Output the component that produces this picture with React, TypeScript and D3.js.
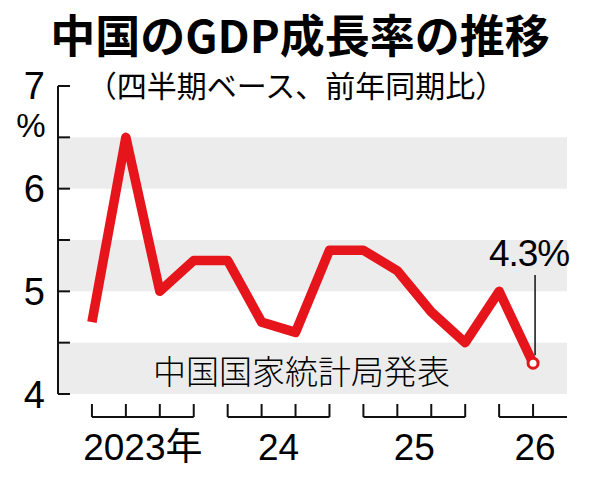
import React from 'react';
import * as d3 from 'd3';

// quarterly growth, 2023 Q1 .. 2026 Q2 (%)
const values = [4.7, 6.5, 5.0, 5.3, 5.3, 4.7, 4.6, 5.4, 5.4, 5.2, 4.8, 4.5, 5.0, 4.3];
const yearLabels = ['2023年', '24', '25', '26'];
const yearStarts = [0, 4, 8, 12];
const yearEnds = [3, 7, 11, 14];
const yTicks = [4, 5, 6, 7];
const bands = [[4, 4.5], [5, 5.5], [6, 6.5]];

const RED = '#e6141b';
const SANS = '"Liberation Sans", Arial, "Noto Sans CJK JP", sans-serif';
const JP = '"Noto Sans CJK JP", sans-serif';

const App = () => {
  const x = d3.scaleLinear().domain([-1, 14]).range([58, 567]);
  const y = d3.scaleLinear().domain([4, 7]).range([394, 86]);

  const line = d3.line<number>()
    .x((d, i) => x(i))
    .y(d => y(d));

  const last = values.length - 1;
  const minorTicks = d3.range(4, 7.01, 0.5);

  return (
    <svg width={600} height={477} style={{ position: 'absolute', left: 0, top: 0, background: '#fff' }}>
      <text x={300} y={53} textAnchor="middle" fontFamily={JP} fontWeight={700} fontSize={45}>
        中国のGDP成長率の推移
      </text>
      <text x={296} y={97} textAnchor="middle" fontFamily={JP} fontSize={30}>
        （四半期ベース、前年同期比）
      </text>

      {bands.map(([a, b]) => (
        <rect key={a} x={x(-1)} y={y(b)} width={x(14) - x(-1)} height={y(a) - y(b)} fill="#ececec" />
      ))}

      {/* y axis */}
      <line x1={x(-1)} x2={x(-1)} y1={y(7)} y2={y(4)} stroke="#111" strokeWidth={2} />
      {minorTicks.map(t => (
        <line key={t} x1={x(-1)} x2={x(-1) + 12} y1={y(t)} y2={y(t)} stroke="#111" strokeWidth={2} />
      ))}
      {yTicks.map(t => (
        <text key={t} x={45} y={t === 7 ? y(t) - 1 : y(t)} dy="0.36em" textAnchor="end" fontFamily={SANS} fontSize={38}>
          {t}
        </text>
      ))}
      <text x={31} y={125} dy="0.36em" textAnchor="middle" fontFamily={SANS} fontSize={33}>%</text>

      <text x={153} y={384} fontFamily={JP} fontWeight={300} fontSize={33}>
        中国国家統計局発表
      </text>

      <path d={line(values) ?? ''} fill="none" stroke={RED} strokeWidth={9.5} strokeLinejoin="round" />

      {/* callout */}
      <line x1={x(last) + 2} x2={x(last) + 2} y1={275} y2={y(values[last]) - 8} stroke="#111" strokeWidth={1.5} />
      <text x={x(last) - 4} y={266} textAnchor="middle" fontFamily={SANS} fontSize={37} letterSpacing={-1}>
        {values[last]}%
      </text>
      <circle cx={x(last)} cy={y(values[last])} r={5} fill="#fff" stroke={RED} strokeWidth={3} />

      {/* x axis year brackets */}
      {yearLabels.map((lab, k) => {
        const s = yearStarts[k];
        const e = yearEnds[k];
        const ticks = d3.range(s, Math.min(e, last) + 1);
        return (
          <g key={lab}>
            <line x1={x(s)} x2={x(e)} y1={417} y2={417} stroke="#111" strokeWidth={2} />
            {ticks.map(i => (
              <line key={i} x1={x(i)} x2={x(i)} y1={404} y2={417} stroke="#111" strokeWidth={2} />
            ))}
            <text x={k === 3 ? x(last) + 2 : x((s + e) / 2)} y={460} textAnchor="middle" fontFamily={SANS} fontSize={37}>
              {lab}
            </text>
          </g>
        );
      })}
    </svg>
  );
};

export default App;
